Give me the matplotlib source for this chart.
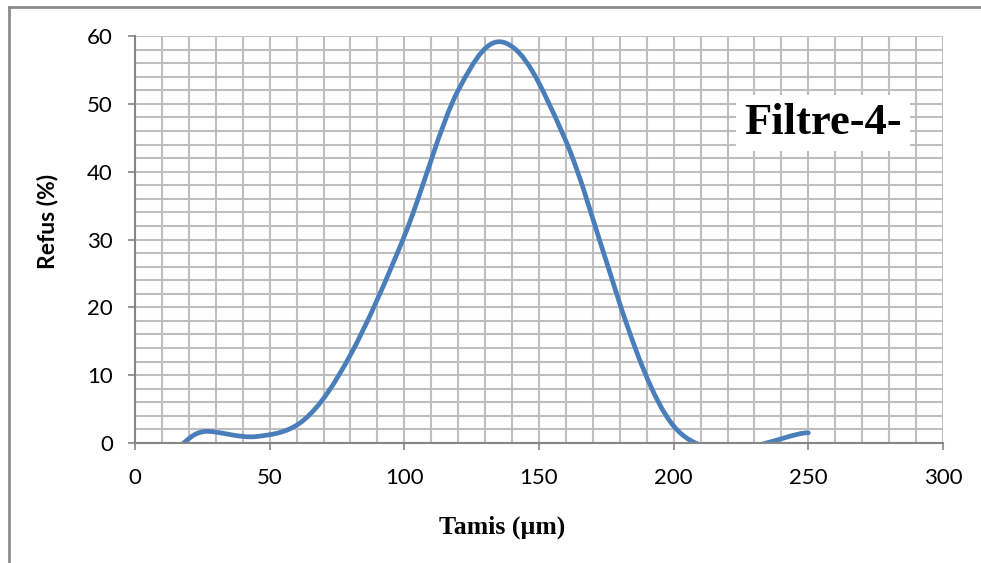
import numpy as np
import matplotlib
matplotlib.use("Agg")
import matplotlib.pyplot as plt
from matplotlib.path import Path
from matplotlib.patches import PathPatch
from matplotlib.lines import Line2D

# Sieve openings (µm) and retained fraction (%)
tamis = [18, 26, 45, 63, 80, 100, 120, 138, 160, 200, 250]
refus = [0.0, 1.7, 0.95, 3.5, 13.0, 30.5, 52.0, 58.9, 44.5, 2.5, 1.5]

x_ticks = [0, 50, 100, 150, 200, 250, 300]
y_ticks = [0, 10, 20, 30, 40, 50, 60]

LINE_COLOR = "#4a7ebb"
GRID_COLOR = "#bfbfbf"
AXIS_COLOR = "#868686"


def smooth_path(xs, ys):
    """Cubic Bezier path through the points (spreadsheet-style smoothed line)."""
    pts = np.column_stack([xs, ys]).astype(float)
    n = len(pts)
    verts = [pts[0]]
    codes = [Path.MOVETO]
    for i in range(n - 1):
        p0 = pts[i - 1] if i > 0 else pts[i]
        p1 = pts[i]
        p2 = pts[i + 1]
        p3 = pts[i + 2] if i + 2 < n else pts[i + 1]
        c1 = p1 + (p2 - p0) / 6.0
        c2 = p2 - (p3 - p1) / 6.0
        verts += [c1, c2, p2]
        codes += [Path.CURVE4] * 3
    return Path(verts, codes)


fig = plt.figure(figsize=(9.81, 5.63), dpi=100)
ax = fig.add_axes([135 / 981, 1 - 443 / 563, (943 - 135) / 981, (443 - 36) / 563])

ax.set_xlim(0, 300)
ax.set_ylim(0, 60)

# grid: every 10 on x, every 2 on y
for xv in np.arange(10, 301, 10):
    ax.axvline(xv, color=GRID_COLOR, lw=1.5, zorder=1)
for yv in np.arange(2, 61, 2):
    ax.axhline(yv, color=GRID_COLOR, lw=1.5, zorder=1)

patch = PathPatch(smooth_path(tamis, refus), facecolor="none", edgecolor=LINE_COLOR,
                  lw=3.4, capstyle="round", joinstyle="round", zorder=3,
                  transform=ax.transData)
ax.add_patch(patch)

ax.set_xticks(x_ticks)
ax.set_yticks(y_ticks)
ax.tick_params(axis="both", direction="out", length=5, width=1.2, color=AXIS_COLOR,
               labelsize=16)
ax.tick_params(axis="x", pad=13)
ax.tick_params(axis="y", pad=11)
for lab in ax.get_xticklabels() + ax.get_yticklabels():
    lab.set_family("Lato")

for side in ("top", "right"):
    ax.spines[side].set_visible(False)
for side in ("left", "bottom"):
    ax.spines[side].set_color(AXIS_COLOR)
    ax.spines[side].set_linewidth(1.5)
    ax.spines[side].set_zorder(4)

fig.text(502 / 981, 1 - 527 / 563, "Tamis (µm)", ha="center", va="center",
         family="Liberation Serif", fontweight="bold", fontsize=18.5)
fig.text(47 / 981, 1 - 221 / 563, "Refus (%)", ha="center", va="center",
         rotation=90, family="Lato", fontweight="bold", fontsize=16.5)

ax.text(823 / 981, 1 - 123 / 563, "Filtre-4-", transform=fig.transFigure,
        ha="center", va="center", family="Liberation Serif", fontweight="bold",
        fontsize=32, zorder=5,
        bbox=dict(boxstyle="square,pad=0.18", facecolor="white", edgecolor="none"))

# chart frame edges
fig.add_artist(Line2D([9 / 981, 1.0], [1 - 7 / 563, 1 - 7 / 563],
                      transform=fig.transFigure, color="#8c8c8c", lw=2))
fig.add_artist(Line2D([9 / 981, 9 / 981], [0.0, 1 - 7 / 563],
                      transform=fig.transFigure, color="#8c8c8c", lw=2))

fig.savefig("out.png", dpi=100, facecolor="white")
